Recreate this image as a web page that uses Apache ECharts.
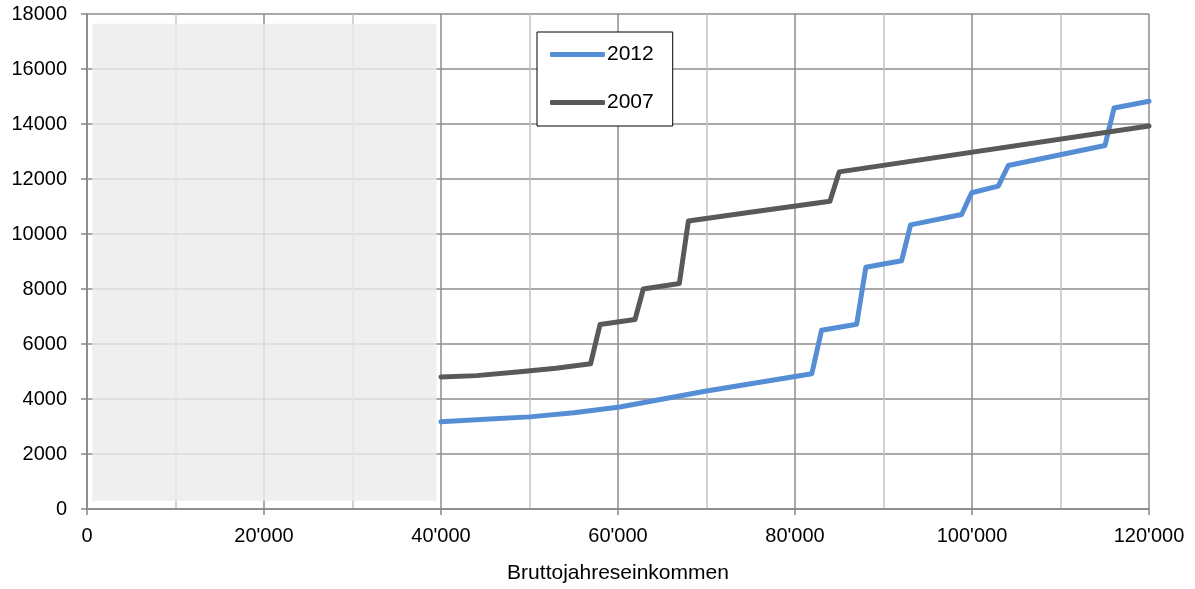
<!DOCTYPE html>
<html>
<head>
<meta charset="utf-8">
<script src="https://cdn.jsdelivr.net/npm/echarts@6/dist/echarts.min.js"></script>
<style>html,body{margin:0;padding:0;background:#fff}#c{width:1195px;height:589px}</style>
</head>
<body>
<div id="c"></div>
<script>
var xLabelName = 'Bruttojahreseinkommen';
var seriesNames = ['2012', '2007'];
var x2012 = [40000, 45000, 50000, 55000, 60200, 70000, 81900, 83000, 86970, 88000, 92050, 93060, 98830, 99960, 102970, 104100, 115030, 116050, 120000];
var y2012 = [3170, 3260, 3350, 3500, 3710, 4290, 4920, 6500, 6720, 8790, 9030, 10330, 10710, 11500, 11740, 12490, 13220, 14580, 14830];
var x2007 = [40000, 44000, 48900, 53000, 56900, 57970, 61920, 62860, 66930, 67950, 74540, 83950, 85000, 120000];
var y2007 = [4800, 4850, 4990, 5120, 5280, 6710, 6890, 8000, 8200, 10470, 10770, 11190, 12260, 13930];
var shadeBox = [[600, 300], [39500, 17650]];

function pairs(xs, ys) { return xs.map(function (x, i) { return [x, ys[i]]; }); }
function fmtX(v) { return String(v).replace(/\B(?=(\d{3})+(?!\d))/g, "'"); }
function fmtY(v) { return String(v); }

var FONT = 'Liberation Sans, Arial, sans-serif';
var chart = echarts.init(document.getElementById('c'), null, { renderer: 'canvas' });
chart.setOption({
  animation: false,
  backgroundColor: '#fff',
  textStyle: { fontFamily: FONT },
  grid: { left: 87, right: 46, top: 14, bottom: 78, containLabel: false },
  legend: {
    data: seriesNames,
    orient: 'vertical',
    left: 537, top: 32,
    backgroundColor: '#fff',
    borderColor: '#000', borderWidth: 1, borderRadius: 0,
    padding: [12, 19, 13, 13],
    itemGap: 27,
    itemWidth: 55, itemHeight: 5,
    icon: 'roundRect',
    textStyle: { fontSize: 21, color: '#000', fontFamily: FONT, padding: [0, 0, 0, -3] }
  },
  xAxis: {
    type: 'value', min: 0, max: 120000, interval: 20000,
    name: xLabelName, nameLocation: 'middle', nameGap: 54,
    nameTextStyle: { fontSize: 21, color: '#000', fontFamily: FONT },
    axisLine: { show: true, lineStyle: { color: '#868686', width: 1.5 } },
    axisTick: { show: true, length: 6, inside: false, lineStyle: { color: '#868686', width: 1.5 } },
    axisLabel: { fontSize: 20, color: '#000', margin: 17, formatter: fmtX, fontFamily: FONT },
    splitLine: { show: true, lineStyle: { color: '#8c8c8c', width: 1.5 } },
    minorTick: { show: false, splitNumber: 2 },
    minorSplitLine: { show: true, lineStyle: { color: '#c4c4c4', width: 1.5 } }
  },
  yAxis: {
    type: 'value', min: 0, max: 18000, interval: 2000,
    axisLine: { show: true, lineStyle: { color: '#868686', width: 1.5 } },
    axisTick: { show: true, length: 6, inside: false, lineStyle: { color: '#868686', width: 1.5 } },
    axisLabel: { fontSize: 20, color: '#000', margin: 20, formatter: fmtY, fontFamily: FONT },
    splitLine: { show: true, lineStyle: { color: '#8c8c8c', width: 1.5 } }
  },
  series: [
    {
      name: seriesNames[0], type: 'line', data: pairs(x2012, y2012),
      showSymbol: false, symbol: 'none',
      lineStyle: { color: '#558ed5', width: 5, cap: 'round', join: 'round' },
      itemStyle: { color: '#558ed5' },
      z: 3,
      markArea: {
        silent: true,
        itemStyle: { color: 'rgba(236,236,236,0.82)', borderWidth: 0 },
        data: [[{ coord: shadeBox[0] }, { coord: shadeBox[1] }]]
      }
    },
    {
      name: seriesNames[1], type: 'line', data: pairs(x2007, y2007),
      showSymbol: false, symbol: 'none',
      lineStyle: { color: '#595959', width: 5, cap: 'round', join: 'round' },
      itemStyle: { color: '#595959' },
      z: 3
    }
  ]
});
</script>
</body>
</html>
